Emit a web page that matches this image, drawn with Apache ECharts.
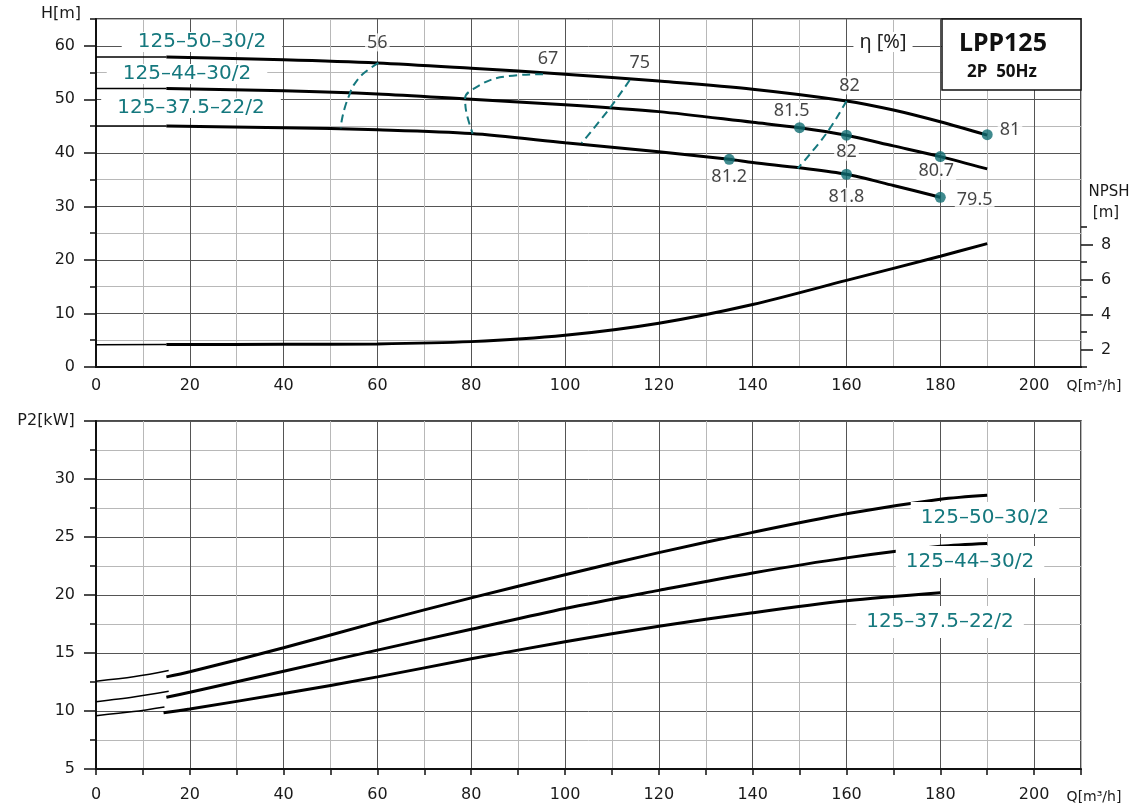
<!DOCTYPE html>
<html><head><meta charset="utf-8">
<script src="https://cdn.jsdelivr.net/npm/echarts@6/dist/echarts.min.js"></script>
<style>html,body{margin:0;padding:0;background:#fff}#c{width:1144px;height:812px}</style>
</head><body><div id="c"></div>
<script>
// ---------- tick labels ----------
const qTickLabels = [0, 20, 40, 60, 80, 100, 120, 140, 160, 180, 200];
const hTickLabels = [0, 10, 20, 30, 40, 50, 60];
const npshTickLabels = [2, 4, 6, 8];
const pTickLabels = [5, 10, 15, 20, 25, 30];
const pLongTicks = [5, 10, 15, 20, 25, 30, 35];

// ---------- pump names ----------
const pumpNames = ['125\u201350\u201330/2', '125\u201344\u201330/2', '125\u201337.5\u201322/2'];

// ---------- H-Q curves ----------
const qH50 = [0, 15, 40, 60, 80, 100, 120, 140, 160, 170, 180, 190];
const h50  = [57.9, 57.9, 57.4, 56.8, 55.8, 54.7, 53.4, 51.9, 49.7, 48.0, 45.8, 43.3];
const qH44 = [0, 15, 40, 60, 80, 100, 120, 140, 150, 160, 170, 180, 190];
const h44  = [52.0, 52.0, 51.6, 51.0, 50.0, 49.0, 47.7, 45.7, 44.7, 43.3, 41.3, 39.3, 37.0];
const qH37 = [0, 15, 40, 60, 80, 100, 120, 135, 140, 150, 160, 170, 180];
const h37  = [45.0, 45.0, 44.7, 44.3, 43.6, 41.9, 40.2, 38.8, 38.2, 37.2, 36.0, 33.9, 31.7];

// ---------- NPSH ----------
const qN   = [0, 15, 40, 60, 80, 100, 120, 140, 160, 180, 190];
const npsh = [2.27, 2.28, 2.3, 2.32, 2.45, 2.81, 3.5, 4.57, 5.95, 7.33, 8.05];

// ---------- efficiency points ----------
const effQ    = [150, 160, 180, 190, 135, 160, 180];
const effH    = [44.7, 43.3, 39.3, 43.4, 38.8, 36.0, 31.7];
const effText = ['81.5', '82', '80.7', '81', '81.2', '81.8', '79.5'];

// ---------- iso-efficiency lines ----------
const iso56Q = [60.2, 57.0, 54.9, 54.0, 53.1, 52.4, 52.2];
const iso56H = [56.8, 54.8, 52.6, 50.8, 48.6, 46.1, 44.6];
const iso67Q = [95.3, 86.1, 80.4, 78.7, 79.0, 80.3];
const iso67H = [54.7, 54.1, 51.9, 50.2, 47.4, 43.6];
const iso75Q = [113.8, 109.5, 103.5];
const iso75H = [53.6, 48.3, 41.8];
const iso82Q = [160, 155.7, 149.6];
const iso82H = [49.7, 43.6, 37.1];
const isoText = ['56', '67', '75', '82'];

// ---------- P2-Q curves ----------
const qP50thin = [0, 8, 15.5];
const p50thin  = [12.57, 12.95, 13.49];
const qP50 = [15, 20, 40, 60, 80, 100, 120, 140, 160, 180, 190];
const p50  = [12.94, 13.38, 15.45, 17.66, 19.75, 21.75, 23.65, 25.4, 27.0, 28.25, 28.6];
const qP44thin = [0, 8, 15.5];
const p44thin  = [10.79, 11.2, 11.7];
const qP44 = [15, 20, 40, 60, 80, 100, 120, 140, 160, 180, 190];
const p44  = [11.18, 11.61, 13.43, 15.25, 17.05, 18.84, 20.4, 21.9, 23.2, 24.2, 24.45];
const qP37thin = [0, 8, 14.6];
const p37thin  = [9.6, 9.95, 10.35];
const qP37 = [14.4, 20, 40, 60, 80, 100, 120, 140, 160, 180];
const p37  = [9.84, 10.18, 11.5, 12.94, 14.5, 15.97, 17.3, 18.47, 19.5, 20.2];

// ---------- styling ----------
const AX = '#111', DARK = '#555', LIGHT = '#b8b8b8', TXT = '#1a1a1a';
const TEAL = '#15787e', DOT = '#0f6d72';
const F = 'DejaVu Sans', FN = 'Noto Sans';

const pairs = (qs, vs) => qs.map((q, i) => [q, vs[i]]);
const thinPart = (qs, vs) => pairs(qs, vs).filter(p => p[0] <= 15);
const thickPart = (qs, vs) => pairs(qs, vs).filter(p => p[0] >= 15);
const only = list => v => (list.indexOf(v) >= 0 ? String(v) : '');

function curve(data, xi, yi, w) {
  return {
    type: 'line', xAxisIndex: xi, yAxisIndex: yi, data: data, symbol: 'none',
    smooth: 0.3, lineStyle: { color: '#000', width: w }, silent: true, z: 3
  };
}
function iso(qs, hs) {
  return {
    type: 'line', xAxisIndex: 0, yAxisIndex: 0, data: pairs(qs, hs), symbol: 'none',
    smooth: 0.4, lineStyle: { color: TEAL, width: 2, type: [8, 5] }, silent: true, z: 4
  };
}

const tickStyle = { color: AX, width: 1.5 };
const labelBase = { color: TXT, fontFamily: F, fontSize: 16 };

const isoStarts = [[iso56Q[0], iso56H[0]], [iso67Q[0], iso67H[0]], [iso75Q[0], iso75H[0]], [iso82Q[0], iso82H[0]]];
const isoLabelOpts = [
  { distance: 11, offset: [-1, 0] },
  { distance: 6, offset: [5, 0] },
  { distance: 8, offset: [10, 0] },
  { distance: 6, offset: [3, 0] }
];
const effLabelOpts = [
  { position: 'top', distance: 2, offset: [-8, 0] },
  { position: 'bottom', distance: 2, offset: [0, 0] },
  { position: 'bottom', distance: 0, offset: [-4, 0] },
  { position: 'right', distance: 5, offset: [0, -5] },
  { position: 'bottom', distance: 3, offset: [0, 0] },
  { position: 'bottom', distance: 8, offset: [0, 0] },
  { position: 'right', distance: 9, offset: [0, 3] }
];
const effLabelStyle = { color: '#151515', fontFamily: FN, fontSize: 18, backgroundColor: '#fff', padding: [0, 2] };

const series = [
  curve(thinPart(qH50, h50), 0, 0, 1.5), curve(thickPart(qH50, h50), 0, 0, 3),
  curve(thinPart(qH44, h44), 0, 0, 1.5), curve(thickPart(qH44, h44), 0, 0, 3),
  curve(thinPart(qH37, h37), 0, 0, 1.5), curve(thickPart(qH37, h37), 0, 0, 3),
  curve(thinPart(qN, npsh), 1, 2, 1.5), curve(thickPart(qN, npsh), 1, 2, 3),
  iso(iso56Q, iso56H), iso(iso67Q, iso67H), iso(iso75Q, iso75H), iso(iso82Q, iso82H),
  {
    type: 'scatter', xAxisIndex: 0, yAxisIndex: 0, symbolSize: 1, silent: true, z: 6,
    itemStyle: { color: 'rgba(0,0,0,0)' },
    data: isoStarts.map((p, i) => ({
      value: p,
      label: Object.assign({ show: true, position: 'top', formatter: isoText[i] }, effLabelStyle, isoLabelOpts[i])
    }))
  },
  {
    type: 'scatter', xAxisIndex: 0, yAxisIndex: 0, symbolSize: 11, silent: true, z: 7,
    itemStyle: { color: DOT },
    data: effQ.map((q, i) => ({
      value: [q, effH[i]],
      label: Object.assign({ show: true, formatter: effText[i] }, effLabelStyle, effLabelOpts[i])
    }))
  },
  curve(pairs(qP50thin, p50thin), 2, 4, 1.5), curve(pairs(qP50, p50), 2, 4, 3),
  curve(pairs(qP44thin, p44thin), 2, 4, 1.5), curve(pairs(qP44, p44), 2, 4, 3),
  curve(pairs(qP37thin, p37thin), 2, 4, 1.5), curve(pairs(qP37, p37), 2, 4, 3)
];

const xBase = gi => ({ type: 'value', gridIndex: gi, min: 0, max: 210, interval: 10 });
const gridSplit = { show: true, lineStyle: { color: [DARK, LIGHT], width: 1 } };
const lineOn = { show: true, onZero: false, lineStyle: { color: AX, width: 2 } };
const lineOff = { show: false, onZero: false };

function txt(text, x, y, style) {
  return {
    type: 'text', z: 100, x: x, y: y,
    style: Object.assign({ text: text, align: 'center', verticalAlign: 'middle', fill: TXT, font: '16px "DejaVu Sans"' }, style || {})
  };
}
const nameStyle = { font: '20px "DejaVu Sans"', fill: TEAL, backgroundColor: '#fff' };

const option = {
  animation: false,
  backgroundColor: '#fff',
  grid: [
    { left: 96, right: 63, top: 19, height: 348, show: true, borderColor: AX, borderWidth: 1.5, backgroundColor: 'transparent' },
    { left: 96, right: 63, top: 227, height: 140, show: false },
    { left: 96, right: 63, top: 421, height: 348, show: true, borderColor: AX, borderWidth: 1.5, backgroundColor: 'transparent' }
  ],
  xAxis: [
    Object.assign(xBase(0), {
      axisLine: lineOn, axisTick: { show: false },
      axisLabel: Object.assign({ customValues: qTickLabels, formatter: only(qTickLabels), margin: 11 }, labelBase),
      splitLine: gridSplit
    }),
    Object.assign(xBase(1), { show: false, axisLine: lineOff, splitLine: { show: false } }),
    Object.assign(xBase(2), {
      axisLine: lineOn,
      axisTick: { show: true, length: 6, lineStyle: tickStyle },
      axisLabel: Object.assign({ customValues: qTickLabels, formatter: only(qTickLabels), margin: 18 }, labelBase),
      splitLine: gridSplit
    })
  ],
  yAxis: [
    { type: 'value', gridIndex: 0, min: 0, max: 65, interval: 5, position: 'left',
      axisLine: lineOn,
      axisTick: { show: true, length: 6, lineStyle: tickStyle },
      axisLabel: Object.assign({ customValues: hTickLabels, formatter: only(hTickLabels), margin: 21 }, labelBase),
      splitLine: gridSplit },
    { type: 'value', gridIndex: 0, min: 0, max: 65, interval: 10, position: 'left',
      axisLine: lineOff, axisTick: { show: true, length: 12, customValues: hTickLabels, lineStyle: tickStyle },
      axisLabel: { show: false }, splitLine: { show: false } },
    { type: 'value', gridIndex: 1, min: 1, max: 9, interval: 1, position: 'right',
      axisLine: lineOff, axisTick: { show: true, length: 6, lineStyle: tickStyle },
      axisLabel: Object.assign({ customValues: npshTickLabels, formatter: only(npshTickLabels), margin: 20 }, labelBase),
      splitLine: { show: false } },
    { type: 'value', gridIndex: 1, min: 1, max: 9, interval: 1, position: 'right',
      axisLine: lineOff, axisTick: { show: true, length: 12, customValues: npshTickLabels, lineStyle: tickStyle },
      axisLabel: { show: false }, splitLine: { show: false } },
    { type: 'value', gridIndex: 2, min: 5, max: 35, interval: 2.5, position: 'left',
      axisLine: lineOn,
      axisTick: { show: true, length: 6, lineStyle: tickStyle },
      axisLabel: Object.assign({ customValues: pTickLabels, formatter: only(pTickLabels), margin: 21 }, labelBase),
      splitLine: gridSplit },
    { type: 'value', gridIndex: 2, min: 5, max: 35, interval: 5, position: 'left',
      axisLine: lineOff, axisTick: { show: true, length: 12, customValues: pLongTicks, lineStyle: tickStyle },
      axisLabel: { show: false }, splitLine: { show: false } }
  ],
  series: series,
  graphic: [
    { type: 'rect', z: 90, shape: { x: 942, y: 19, width: 139, height: 71 }, style: { fill: '#fff', stroke: AX, lineWidth: 1.5 } },
    txt('LPP125', 1003, 44, { font: 'bold 25px "Noto Sans"', fill: '#111' }),
    txt('2P  50Hz', 1002, 72, { font: 'bold 17px "Noto Sans"', fill: '#111' }),
    txt('\u03b7 [%]', 883, 42, { font: '20px "Noto Sans"', fill: '#222', backgroundColor: '#fff', padding: [0, 6] }),
    txt('H[m]', 61, 14, { font: '16px "DejaVu Sans"' }),
    txt('P2[kW]', 46, 421, { font: '16px "DejaVu Sans"' }),
    txt('NPSH', 1109, 192, { font: '15px "DejaVu Sans"' }),
    txt('[m]', 1106, 213, { font: '15px "DejaVu Sans"' }),
    txt('Q[m\u00b3/h]', 1094, 386, { font: '14px "DejaVu Sans"' }),
    txt('Q[m\u00b3/h]', 1094, 797, { font: '14px "DejaVu Sans"' }),
    txt(pumpNames[0], 202, 42, Object.assign({}, nameStyle, { padding: [0, 16] })),
    txt(pumpNames[1], 187, 74, Object.assign({}, nameStyle, { padding: [0, 16] })),
    txt(pumpNames[2], 191, 108, Object.assign({}, nameStyle, { padding: [0, 16] })),
    txt(pumpNames[0], 985, 518, Object.assign({}, nameStyle, { padding: [6, 10] })),
    txt(pumpNames[1], 970, 562, Object.assign({}, nameStyle, { padding: [6, 10] })),
    txt(pumpNames[2], 940, 622, Object.assign({}, nameStyle, { padding: [6, 10] }))
  ]
};

const chart = echarts.init(document.getElementById('c'));
chart.setOption(option);
</script>
</body></html>
